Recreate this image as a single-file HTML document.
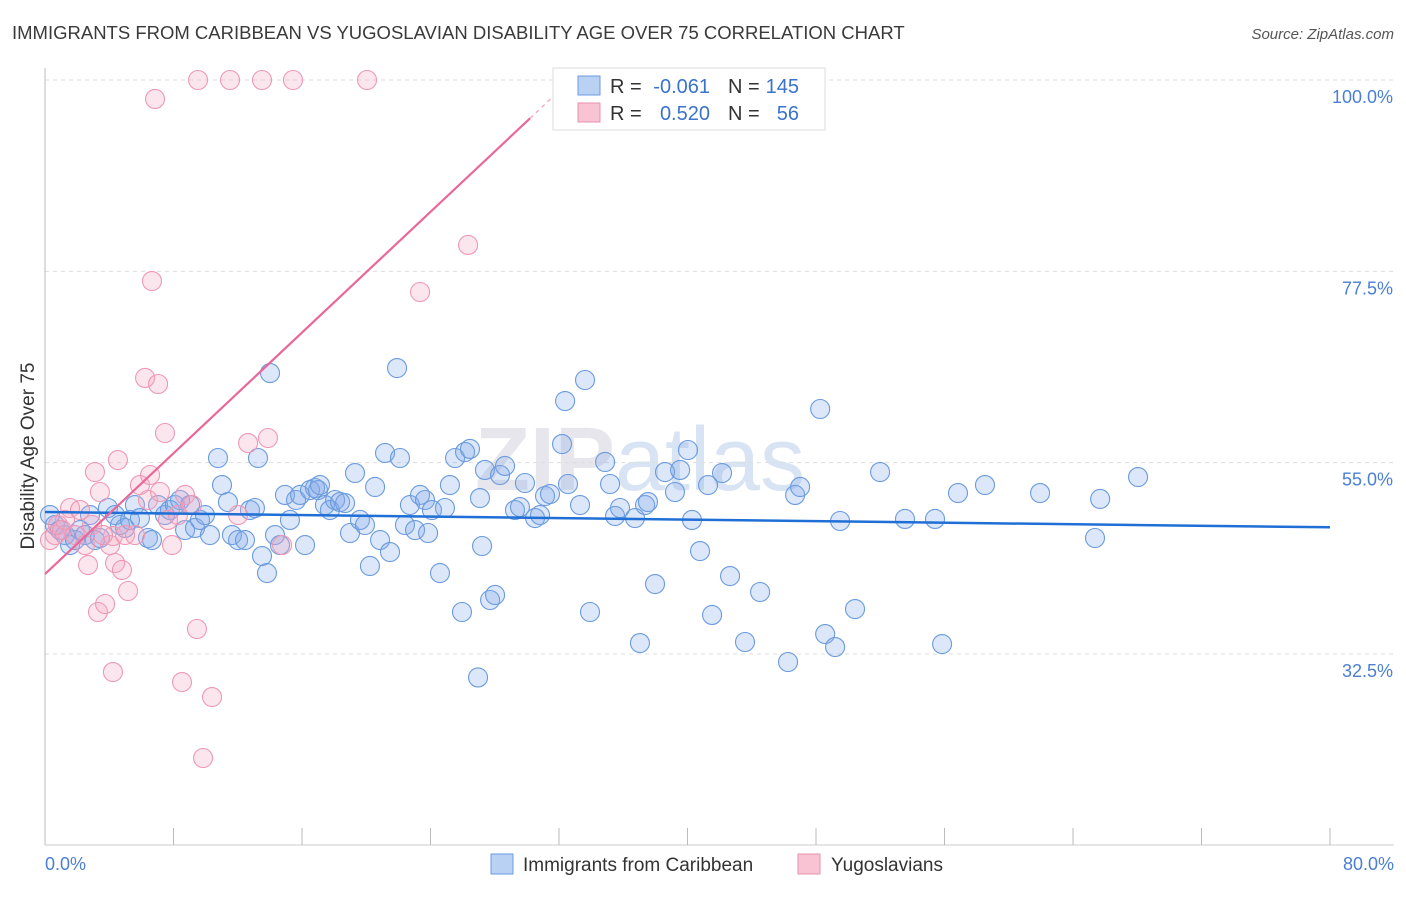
<!DOCTYPE html>
<html><head><meta charset="utf-8"><style>
body{margin:0;background:#fff;font-family:"Liberation Sans",sans-serif;}
svg text{font-family:"Liberation Sans",sans-serif;}
</style></head><body>
<svg id="chart" width="1406" height="892" viewBox="0 0 1406 892" xmlns="http://www.w3.org/2000/svg">
<text x="12" y="39" font-size="18.5" fill="#3a3a3a">IMMIGRANTS FROM CARIBBEAN VS YUGOSLAVIAN DISABILITY AGE OVER 75 CORRELATION CHART</text>
<text x="1394" y="39" font-size="15" fill="#555" font-style="italic" text-anchor="end">Source: ZipAtlas.com</text>
<text x="640" y="490" font-size="90" fill="#e6e6ec" font-weight="bold" text-anchor="middle" font-family="Liberation Serif">ZIP<tspan font-weight="normal" font-family="Liberation Sans" fill="#d8e4f4">atlas</tspan></text>
<g id="grid"></g>
<g id="axes"></g>
<g id="pts"></g>
<g id="lines"></g>
<text transform="translate(34,456) rotate(-90)" font-size="19" fill="#333" text-anchor="middle">Disability Age Over 75</text>
<text x="45" y="870" font-size="18" fill="#4a7fd4">0.0%</text>
<text x="1394" y="870" font-size="18" fill="#4a7fd4" text-anchor="end">80.0%</text>
<g>
<rect x="553" y="68" width="272" height="62" fill="#fff" stroke="#ddd"/>
<rect x="578" y="76" width="22" height="19" fill="#b9d2f3" stroke="#6c9ae0"/>
<rect x="578" y="103" width="22" height="19" fill="#f8c3d3" stroke="#e990ad"/>
<text x="610" y="93" font-size="20" fill="#333">R =</text>
<text x="710" y="93" font-size="20" fill="#3a72cc" text-anchor="end">-0.061</text>
<text x="728" y="93" font-size="20" fill="#333">N =</text>
<text x="799" y="93" font-size="20" fill="#3a72cc" text-anchor="end">145</text>
<text x="610" y="120" font-size="20" fill="#333">R =</text>
<text x="710" y="120" font-size="20" fill="#3a72cc" text-anchor="end">0.520</text>
<text x="728" y="120" font-size="20" fill="#333">N =</text>
<text x="799" y="120" font-size="20" fill="#3a72cc" text-anchor="end">56</text>
</g>
<g>
<rect x="491" y="854" width="22" height="20" fill="#b9d2f3" stroke="#6c9ae0"/>
<text x="523" y="871" font-size="19" fill="#333">Immigrants from Caribbean</text>
<rect x="798" y="854" width="22" height="20" fill="#f8c3d3" stroke="#e990ad"/>
<text x="831" y="871" font-size="19" fill="#333">Yugoslavians</text>
</g>
</svg>
<script>
const yTicks=[100,77.5,55,32.5];
const yTickLabels=["100.0%","77.5%","55.0%","32.5%"];
const xTicks=[0,8,16,24,32,40,48,56,64,72,80];
const blueX=[0.31,0.62,0.93,1.25,1.56,1.87,2.18,2.49,2.80,3.11,3.42,3.92,4.36,4.67,4.98,5.29,5.60,5.91,6.41,6.66,7.04,7.47,7.78,8.09,8.41,8.72,9.03,9.34,9.65,9.96,10.27,10.77,11.02,11.39,11.64,12.02,12.45,12.76,13.07,13.26,13.51,13.82,14.01,14.32,14.63,14.94,15.25,15.63,15.88,16.19,16.50,16.81,17.00,17.12,17.43,17.74,18.06,18.37,18.68,18.99,19.30,19.61,19.92,20.23,20.55,20.86,21.17,21.48,21.92,22.10,22.41,22.72,23.04,23.35,23.66,23.85,24.09,24.59,24.90,25.21,25.53,25.96,26.15,26.46,26.96,27.08,27.21,27.39,27.71,28.02,28.33,28.64,29.26,29.57,29.88,30.51,30.82,31.13,31.44,32.38,32.19,32.56,33.31,33.62,33.93,34.87,35.18,35.49,35.80,36.73,37.04,37.36,37.54,37.98,38.60,39.22,39.54,40.03,40.28,40.78,41.28,41.53,42.15,42.65,43.58,44.52,46.26,46.70,47.01,48.26,48.57,49.19,49.50,50.43,51.99,53.54,55.41,55.85,56.84,58.52,61.95,65.37,65.69,68.05];
const blueY=[48.84,47.67,47.08,46.49,45.31,45.90,47.08,46.49,48.84,45.90,46.14,49.67,48.84,47.67,47.32,48.26,50.02,48.49,46.14,45.90,50.02,48.84,49.43,50.02,50.61,47.08,50.02,47.32,48.26,48.84,46.49,55.55,52.37,50.37,46.49,45.90,45.90,49.43,49.67,55.55,44.02,42.02,65.54,46.49,45.31,51.20,48.26,50.61,51.20,45.31,51.78,52.02,51.78,52.37,50.02,49.43,50.61,50.37,50.25,46.73,53.78,48.26,47.67,42.85,52.14,45.90,56.14,44.49,66.13,55.55,47.67,50.02,47.08,51.20,50.61,46.73,49.43,42.02,49.67,52.37,55.55,37.44,56.25,56.61,29.74,50.84,45.20,54.14,38.85,39.44,53.55,54.61,49.43,49.78,52.61,48.49,48.84,51.08,51.31,62.25,57.19,52.49,50.02,64.72,37.44,55.08,52.49,48.73,49.67,48.49,33.79,50.02,50.37,40.73,53.90,51.55,54.14,56.49,48.26,44.61,52.37,37.09,53.78,41.67,33.91,39.79,31.56,51.20,52.14,61.31,34.85,33.32,48.14,37.79,53.90,48.38,48.38,33.67,51.43,52.37,51.43,46.14,50.73,53.31];
const pinkX=[0.31,0.62,0.81,1.06,1.25,1.56,1.87,2.18,2.49,2.68,2.93,3.11,3.30,3.42,3.74,4.05,4.23,4.36,4.54,4.79,4.98,5.17,5.60,5.91,6.23,6.41,6.54,6.66,6.85,7.04,7.16,7.47,7.66,7.91,8.28,8.53,8.72,9.15,9.46,9.53,10.40,9.84,11.52,12.02,12.64,13.51,13.88,14.76,15.44,20.05,23.35,26.34,4.23,3.61];
const pinkY=[45.90,46.49,47.67,47.08,48.26,49.67,46.49,49.43,45.31,42.96,47.67,53.90,37.44,51.55,38.38,45.31,46.37,43.20,55.31,42.38,46.49,39.91,46.49,52.37,64.96,50.61,53.55,76.36,97.77,64.25,51.55,58.49,48.26,45.31,48.84,29.20,51.20,50.02,35.44,100,27.44,20.27,100,48.84,57.31,100,57.90,45.31,100,100,75.07,80.60,30.38,46.49];
const blueTrend=[[0,49.2],[80,47.4]];
const pinkTrend=[[0,41.9],[30.2,95.5]];
const NS="http://www.w3.org/2000/svg";
const X0=45,X1=1330,Y100=80,Y325=654;
const sx=v=>X0+(v/80)*(X1-X0);
const sy=v=>Y100+(100-v)/(100-32.5)*(Y325-Y100);
function mk(tag,attrs,parent){const e=document.createElementNS(NS,tag);for(const k in attrs)e.setAttribute(k,attrs[k]);parent.appendChild(e);return e;}
const grid=document.getElementById('grid'),axes=document.getElementById('axes'),pts=document.getElementById('pts'),lines=document.getElementById('lines');
yTicks.forEach((t,i)=>{
 const l=mk('line',{x1:X0,x2:1394,y1:sy(t),y2:sy(t),stroke:'#ddd','stroke-dasharray':'4,4'},grid);
 
 
 const tx=mk('text',{x:1393,y:sy(t)+23,'font-size':18,fill:'#4a7fd4','text-anchor':'end'},axes);
 tx.textContent=yTickLabels[i];
 
 
});
const ya=mk('line',{x1:X0,x2:X0,y1:68,y2:845,stroke:'#bbb'},axes);


const xa=mk('line',{x1:X0,x2:1394,y1:845,y2:845,stroke:'#ccc'},axes);


xTicks.forEach(t=>{
 const l=mk('line',{x1:sx(t),x2:sx(t),y1:828,y2:845,stroke:'#bbb'},axes);
 
 
});
blueX.forEach((v,i)=>{
 const c=mk('circle',{cx:sx(v),cy:sy(blueY[i]),r:9.5,fill:'rgba(130,170,235,0.28)',stroke:'#6a9bde','stroke-width':1.1},pts);
 
 
});
pinkX.forEach((v,i)=>{
 const c=mk('circle',{cx:sx(v),cy:sy(pinkY[i]),r:9.5,fill:'rgba(245,165,195,0.28)',stroke:'#ee98b4','stroke-width':1.1},pts);
 
 
});
const bl=mk('line',{x1:sx(blueTrend[0][0]),y1:sy(blueTrend[0][1]),x2:sx(blueTrend[1][0]),y2:sy(blueTrend[1][1]),stroke:'#1f6fd6','stroke-width':2.5},lines);


const pl=mk('line',{x1:sx(pinkTrend[0][0]),y1:sy(pinkTrend[0][1]),x2:sx(pinkTrend[1][0]),y2:sy(pinkTrend[1][1]),stroke:'#e8689a','stroke-width':2.2},lines);


const slope=(pinkTrend[1][1]-pinkTrend[0][1])/(pinkTrend[1][0]-pinkTrend[0][0]);
const xe=pinkTrend[1][0]+2;
const pd=mk('line',{x1:sx(pinkTrend[1][0]),y1:sy(pinkTrend[1][1]),x2:sx(xe),y2:sy(pinkTrend[1][1]+slope*2),stroke:'#f0b0c8','stroke-width':1.5,'stroke-dasharray':'4,4'},lines);


</script>
</body></html>
